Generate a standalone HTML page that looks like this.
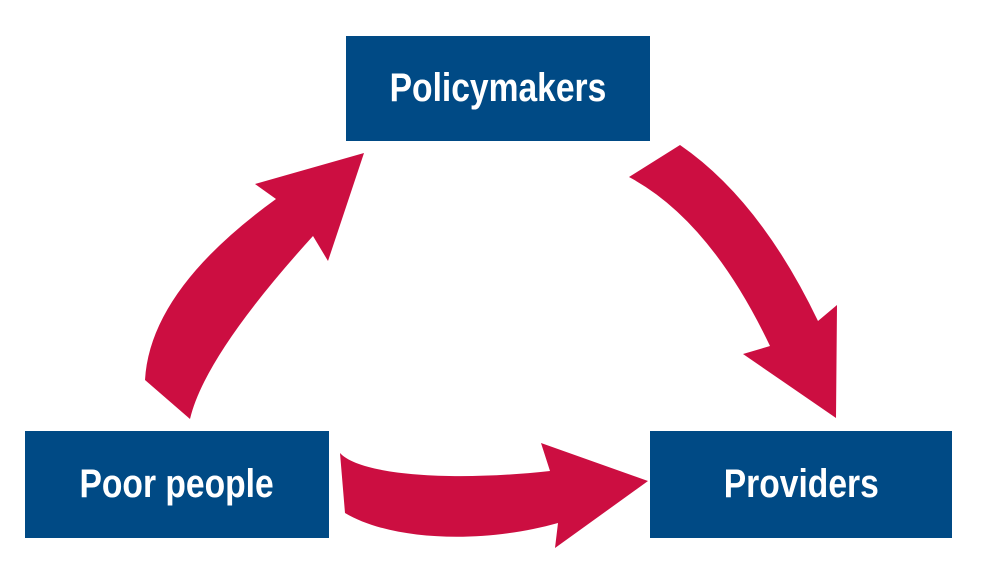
<!DOCTYPE html>
<html><head><meta charset="utf-8"><style>
html,body{margin:0;padding:0;background:#fff;}
.wrap{position:relative;width:989px;height:587px;overflow:hidden;}
.box{position:absolute;background:#004a85;color:#fff;display:flex;align-items:center;justify-content:center;
font-family:"Liberation Sans Narrow","Liberation Sans",sans-serif;font-weight:bold;font-size:40px;}
.box span{display:inline-block;transform:scaleX(0.84);white-space:nowrap;}
svg{position:absolute;left:0;top:0;}
</style></head><body><div class="wrap">
<svg width="989" height="587" viewBox="0 0 989 587">
<g fill="#cc0e41">
<path d="M145,380 Q150,290 276,199 L255,184 L364,153 L328,261 L313,236 Q205,355 190,419 Z"/>
<path d="M680,145 Q760,200 818,321 L837,305 L836,418 L743,354 L770,346 Q710,220 629,177 Z"/>
<path d="M340,453 C360,475 450,482 550,471 L541,443 L648,481 L555,548 L558,523 C480,545 390,540 345,513 Z"/>
</g>
</svg>
<div class="box" style="left:346px;top:36px;width:304px;height:105px;"><span>Policymakers</span></div>
<div class="box" style="left:25px;top:431px;width:304px;height:107px;"><span>Poor people</span></div>
<div class="box" style="left:650px;top:431px;width:302px;height:107px;"><span>Providers</span></div>
</div></body></html>
